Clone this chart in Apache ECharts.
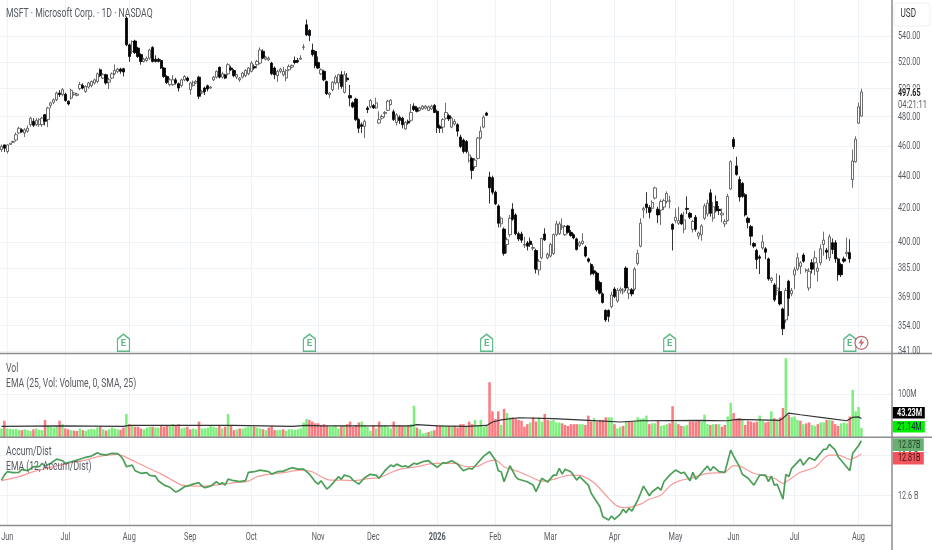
<!DOCTYPE html>
<html><head><meta charset="utf-8">
<style>html,body{margin:0;padding:0;background:#fff}#c{width:932px;height:550px}</style>
<script src="https://cdn.jsdelivr.net/npm/echarts@6/dist/echarts.min.js"></script>
</head><body><div id="c"></div>
<script>
const opens=[457.5,460.7,456.3,461,462.5,464,468.8,471,468.8,470,
474.5,476.8,474.5,474.5,474.5,481.4,478,488,490.2,492,
496.9,495.7,496,491,493.3,495.7,495.2,500.2,502.5,498,
501.2,502.3,504.2,505.3,514,507.8,510.3,504.8,507.8,511,
512.8,514.5,514.8,554.2,533,528,536,530.5,525.5,520.3,
521,522.8,531,522,522,521,515.3,509,503,503,
506.5,503.7,502.3,506.5,507.8,499.3,502.3,504.2,508.5,497,
500.5,502.2,500.5,506.5,508.5,515.8,508.5,510.3,511,515.3,
513.5,508.5,506.5,508.5,509.6,511,512.8,516.5,517.8,519,
528,522,521.5,519,515.3,509.6,512.8,510.3,507.8,514,
516,521,521,522,531.1,548.8,544.3,529,528,519.5,
511,512.8,505.3,495.7,499.3,504.2,504.2,510.3,497.4,507.8,
495,489.8,492.5,478,474.5,473.3,486.2,487,487.9,486.2,
475.6,479,482.2,484.5,488.6,483.5,476,479.7,479,471.5,
476.8,477.5,487.4,486.2,484.5,485.5,486,484.5,485.5,488,
483.8,473.3,472.8,479,480.7,472.8,475,474.5,466,464,
463,450.2,451.7,446.4,451.7,465.3,472.8,482.6,439.6,439.2,
430,421.5,410.6,407.5,398.5,404.2,419.5,416,404.8,404.6,
398,399.4,400.4,396.3,395,384,390.8,404.6,390.8,391.8,
393.3,404.2,404.8,408.6,404.2,409.4,405.6,404.2,401.7,397.9,
399,397,390.2,387,383.5,382.2,377,370.8,362,362,
364,373.4,367,372.5,371.8,385,371.2,373,373.4,387.6,
397.5,419,422.7,420.6,420,426.4,419.5,419,420.8,424.2,
424.4,410.4,412.6,411,416,407.4,420,417,407.4,414.6,
403.3,404.2,414,416.6,429.6,414,424.2,419.4,416,410.6,
412.6,432,464.4,446.8,438,435.6,428.5,414,409,399,
395,391.4,396.5,396,390.2,378.1,375.7,372.6,372.1,362.7,
357,377.7,370.9,381.2,384.4,386,392.4,383.7,374,388,
388,383.2,388,398.5,395.2,390.8,399.5,399.5,390.2,387,
390.2,393.3,393.7,438,449.5,475.5,480.5];
const closes=[459.8,458.5,460.7,461.8,463,467.6,472,469.5,471,472,
479,474,477.5,478,479,476.8,486.2,489.8,492,496.9,
495.7,499.3,491.5,489,498.8,496.9,496.2,503,500.5,501.7,
504.2,505.3,506.5,511,509.6,510.3,504.2,506.5,511,513.5,
514.5,512.8,512.3,533,524,535.6,527,524,520.3,522,
522.8,529,520.3,520.3,520.3,515.3,509,504.5,506.5,506.5,
504.2,500.5,506.5,509,506,504.2,504.8,505.3,494.5,498,
498,499.8,501.2,508.5,512.8,508.5,511,507.8,517.8,514,
509.6,510.3,507.8,511.5,513.5,515.3,519,515.3,520.3,529,
522.8,523.5,522.8,511,510.3,512.8,514.5,512.8,513.5,516.5,
517.3,519.5,520,522.8,531.4,540.8,540.3,525.5,517,515.3,
514,506.5,496.4,496.9,504.7,508.5,510.3,501.7,510.3,506.5,
493.3,487,478,472,473.3,476.8,485,491.5,486.2,489.8,
478,480.2,483,491,491.6,478,481.4,477.4,474.5,476,
475.6,483,485,483.8,486.2,487.4,487.4,487,487.4,483,
472.5,472,478,483,478.5,479,476.8,470,459.6,456.3,
456.3,454,443.9,450.6,465.3,470,479.7,481,432.7,430,
422.8,411,414,393.3,401.3,414,413.4,404.8,401.7,401,
398.5,397.5,398.5,396.7,384.4,388.8,402,401.2,392.8,398.5,
404.2,410.6,410.6,409.4,409,405.6,403.7,402.3,395.6,399.4,
400.4,391.8,388.9,381.8,382.2,373,371.2,366.2,357,358.8,
370.2,369.4,372.7,373.4,373,374,373,370.8,384.4,393.3,
411,420,420.5,417.5,423.6,432.7,416,424.2,424.8,429.2,
424.6,407.4,414.6,412.6,410.6,413,419.4,414.6,412,407.4,
405.2,409.4,421.5,423.2,417,421,418.5,418.6,417,412,
427.4,449.5,459.6,441.2,427,427.4,416,411.4,403.3,397.5,
389.8,390.6,400,394,379,379.4,367.6,374,365.4,352.4,
372.6,368.4,372.6,384,390.8,388,388.9,384,383.2,384.4,
390.8,385,396,401,394,403,395.6,390.2,381.3,381.3,
388.9,394,390.2,450,464.5,487,497.65];
const lows=[456,456,455,461,462,463,468,469,466,469,
473,473,473.5,473,473,474,472.8,486,489,491,
494,494.5,490.5,488,492,495,494.5,499,499.5,497,
500,501,503,504,508.5,507,503,499.8,507,510,
511.5,511,509,532,520,526,526,523,517.8,519.5,
520,521.5,519.5,519.5,519.5,514.5,508,503.5,501.7,502,
503,498,501,505.5,505,495.7,501.5,503.5,492.5,496,
495.5,498,500,505.5,507.5,507.5,507.5,507,510,513,
508.5,507,505,507.5,508.5,510,512,514,515,518,
522,521,520.5,510,507,505,511.5,509,505.5,513,
515,518,519,521.5,529,540,536,524,515,514.5,
510,505.5,495.5,493.3,498,503,499.3,500,496.5,505,
487.4,486,477,468.8,468.8,465.3,482.6,486,485.5,485.5,
475,478,479.5,484,488,477,474,475,472,471,
474.5,476.5,484,483,483.8,484.8,485.2,484,484.8,482.5,
468.8,468.8,468.8,478,477,472,474,466.4,458.5,455,
455,449,438.3,445,451,464.5,472,480.5,423,428.5,
422,408.5,408.5,392,393.5,403,412.5,403.8,400.5,399.5,
396.5,395,397,395,382,381,390,400.5,390,391,
392.5,403.3,404,407,403.5,404.8,403,401.5,395,397,
398.3,391,388,381,381,372,370.5,365.6,356,356,
363,368.5,366,371,370.5,372.5,368,369.5,372.5,386.5,
396.8,414,417,414,418,425.5,411,410,419,423,
420,395,411,410,410,405,416.5,413.5,405.5,406,
401.5,400.7,413,415,415,412,417.5,416,411.5,408.7,
412,431.5,458,440.5,424.2,426.5,415,408,398,396.5,
384.5,381.7,395.6,390,378,376.7,366.6,370,364.5,349.2,
355.5,359,369.5,373.5,383.5,381.7,388,382.5,372.5,382,
381,377.5,386.5,392,390,389,393,388,378,380,
388,391.5,388,432.8,449,475,480];
const highs=[461,461,461,462,463.5,469,473,472,472,474,
480,479,479,479,480,482,487,490.5,493,498,
499,500.5,497,491.5,500,497.5,497,505,504,502.5,
505,506,507.5,512,515,511.5,511,508,512,518,
515.5,515.5,515.5,555.5,534,536.5,537,531.5,526.5,523,
524,530,532,525,523,522,516,510,508,510,
508,504.5,507.5,510,509,505,506,506.5,509.5,499,
501.5,503,502,509.5,513.5,516.5,512.5,511,519,517,
514.5,511,508.5,512.5,514.5,516,520.5,518,521.5,531,
529.5,524.5,524,520,516.5,514,515.5,516,514.5,518,
518,524,523,525,533.5,553,545.5,534,529,524,
515,514,506,497.5,505.5,510,511,513,513,511.5,
502.8,490.8,493.5,479,476,478,487.5,492.5,489,493.5,
483.8,481.5,484,492,492.5,485,482.5,481,480,477,
478,489,489.5,487.5,487,488.2,488.3,488,488.5,489,
485,474.5,479,489.8,482,480,478.5,475.5,467.6,465,
464,456.3,452.8,452,466,473.3,481,483.5,443,440.5,
431,422.5,415,408.5,402.5,416,423.2,417,406,406,
403,400.5,402.5,399,396,390,402.5,408,393.8,399.5,
405,412.5,412,414,410,410,407,405,402.5,400.5,
405,398,391,388,386,383,378,371.5,362.5,362.5,
372,374.5,374,374.4,374,386,374.5,374,385.5,395.5,
414,421,430,422,425,433.5,421,425.5,426,430.5,
427.8,411,420,421,417,418,427.4,418,413,416,
406,410.5,423,425.3,432,424,428,421.5,420,413.5,
429,450.5,466,452.8,440,436.5,429.5,415,410,400,
396,392.5,404,397,391,380,376.7,382,381,363.5,
374,378.5,374,385.5,393.6,389,393.5,384.8,385,390,
394.8,388,398.5,406,396.5,404.5,402,401,391,388,
391.5,402.5,401.5,457.6,466.5,490,500];
const volumes=[20,38,20,19,18,19,17,16,18,16,
14,18,20,17,16,40,26,24,22,24,
38,30,20,18,16,15,14,20,16,14,
18,19,18,22,24,18,15,18,22,20,
18,17,22,54,30,26,24,24,20,18,
22,24,24,22,22,26,24,28,26,30,
26,30,20,22,24,18,20,18,36,20,
20,22,26,24,22,26,20,24,54,26,
16,18,20,20,22,24,24,24,22,20,
18,16,22,26,16,16,17,18,15,18,
18,17,18,20,34,42,40,36,32,32,
28,30,26,24,24,28,20,26,28,30,
36,24,28,34,36,28,24,14,28,20,
36,26,28,24,20,36,28,28,26,26,
28,30,73,22,18,8,10,12,14,16,
28,28,28,26,26,24,26,22,30,30,
24,36,30,40,26,40,24,26,128,60,
42,60,28,66,56,46,46,44,40,38,
24,30,34,46,36,46,36,54,40,38,
40,34,34,32,28,26,30,30,30,30,
30,28,50,36,44,36,40,40,46,46,
46,30,20,24,26,36,36,36,38,46,
42,44,50,30,32,32,38,26,28,30,
32,72,34,30,26,26,28,36,36,36,
38,36,52,30,28,30,30,30,24,28,
48,80,56,42,44,42,28,38,36,34,
36,50,38,34,36,60,44,40,46,68,
184,52,46,48,40,38,30,32,34,28,
26,30,34,34,40,40,38,30,26,32,
34,32,48,110,60,70,21.14];
const volRedOverride=[252];
const volEmaIdx=[0,20,42,44,60,80,100,105,110,125,141,143,150,160,167,169,172,178,190,202,213,220,240,250,253,268,269,271,275,284,291,293,295,296];
const volEmaVal=[25,26,25,27,27,27,25,27,26,26,26,29,26,25,27,35,40,45,43,39,35,38,39,38,41,39,44,56,52,44,38,46,47,43.23];
const adIdx=[0,1,2,4,6,7,9,11,13,14,15,17,19,21,22,24,26,27,29,31,33,34,36,38,40,41,42,43,45,46,48,50,51,53,54,56,58,60,61,63,64,66,68,69,70,72,74,75,76,77,78,80,82,84,85,87,89,92,93,95,97,100,102,104,106,108,109,110,
111,112,113,115,116,117,118,120,121,123,125,127,129,130,132,134,135,136,138,139,140,142,143,145,147,148,150,152,153,155,157,159,161,162,164,166,168,170,171,172,173,175,177,178,181,183,184,186,188,190,191,192,193,194,196,198,199,202,203,206,207,209,210,211,213,214,215,216,217,219,220,
221,223,224,226,227,228,230,232,234,235,237,238,239,241,242,243,244,245,247,249,251,252,254,255,257,259,261,263,264,265,266,267,269,270,271,272,275,276,278,280,283,284,285,287,288,292,293,295,296];
const adVal=[12.678,12.703,12.72,12.715,12.717,12.732,12.725,12.745,12.745,12.762,12.748,12.762,12.783,12.775,12.762,12.77,12.778,12.782,12.792,12.798,12.815,12.808,12.803,12.812,12.81,12.798,12.778,12.745,12.753,12.725,12.712,12.715,12.702,12.698,12.675,12.653,12.642,12.618,12.625,12.645,12.648,12.658,12.665,12.648,12.64,12.648,12.67,12.657,12.665,12.653,12.683,12.675,12.67,12.675,12.717,12.72,12.728,12.72,12.708,12.72,12.723,12.74,12.733,12.733,12.708,12.67,12.658,12.675,
12.653,12.633,12.645,12.678,12.695,12.682,12.703,12.695,12.678,12.658,12.69,12.707,12.702,12.687,12.725,12.753,12.745,12.758,12.745,12.75,12.742,12.762,12.758,12.77,12.775,12.762,12.742,12.765,12.762,12.775,12.758,12.725,12.737,12.732,12.765,12.798,12.82,12.778,12.725,12.72,12.67,12.75,12.695,12.682,12.67,12.653,12.62,12.687,12.668,12.703,12.703,12.737,12.708,12.732,12.72,12.678,12.695,12.653,12.612,12.545,12.495,12.478,12.498,12.482,12.508,12.532,12.515,12.537,12.523,12.578,12.612,
12.648,12.6,12.62,12.642,12.628,12.67,12.703,12.728,12.712,12.717,12.675,12.717,12.682,12.715,12.732,12.748,12.725,12.745,12.72,12.717,12.828,12.798,12.745,12.707,12.687,12.653,12.703,12.703,12.67,12.698,12.653,12.657,12.583,12.707,12.695,12.737,12.783,12.753,12.79,12.778,12.832,12.833,12.857,12.828,12.795,12.725,12.812,12.85,12.875];
const adEmaIdx=[0,6,11,17,23,29,34,40,42,46,50,55,60,62,69,74,80,85,88,92,97,103,107,110,113,117,121,126,130,134,137,143,149,156,160,164,167,170,173,178,182,186,190,196,200,204,209,212,215,220,223,227,230,233,237,243,249,252,254,259,266,269,271,275,280,285,288,292,296];
const adEmaVal=[12.675,12.695,12.72,12.742,12.762,12.778,12.798,12.807,12.798,12.77,12.742,12.708,12.668,12.653,12.648,12.653,12.665,12.673,12.695,12.707,12.715,12.728,12.72,12.695,12.678,12.678,12.675,12.685,12.69,12.715,12.732,12.745,12.762,12.762,12.745,12.748,12.77,12.778,12.745,12.72,12.695,12.673,12.682,12.703,12.698,12.665,12.587,12.548,12.54,12.558,12.582,12.603,12.648,12.673,12.687,12.712,12.717,12.75,12.748,12.712,12.687,12.662,12.678,12.717,12.742,12.803,12.803,12.782,12.808];
const monthIdx=[2,22,44,65,86,109,128,150,170,189,211,232,252,273,295];
const monthLabels=['Jun','Jul','Aug','Sep','Oct','Nov','Dec','2026','Feb','Mar','Apr','May','Jun','Jul','Aug'];
const priceTicks=[540,520,500,480,460,440,420,400,385,369,354,341];
const volTicks=[100];
const adTicks=[12.6,12.8];
const earnIdx=[42,106,167,230,292];
const flashIdx=[296];
const slotCount=308;

const FONT='Roboto,sans-serif';
const TXT='#565b62', GRID='#eef3f8', LINE='#8b8d91';
const cats=Array.from({length:slotCount},(_,i)=>String(i));
const isMonth=i=>monthIdx.includes(+i);
const candle=opens.map((o,i)=>[o,closes[i],lows[i],highs[i]]);
const volBars=volumes.map((v,i)=>{
  const up=i===0?closes[0]>=opens[0]:closes[i]>=closes[i-1];
  const red=volRedOverride.includes(i)||!up;
  return {value:v,itemStyle:{color:red?'#fb7a80':'#7cef7c'}};
});
const pairs=(a,b)=>a.map((x,i)=>[String(x),b[i]]);
const xa=(g)=>({type:'category',gridIndex:g,data:cats,boundaryGap:true,
  axisLine:{show:false},axisTick:{show:false},
  splitLine:{show:true,alignWithLabel:true,interval:(i)=>isMonth(i),lineStyle:{color:GRID,width:1}},
  axisLabel:{show:false}});
const ya=(g,extra)=>Object.assign({gridIndex:g,position:'right',
  axisLine:{show:false},splitLine:{show:true,lineStyle:{color:GRID,width:1}},axisLabel:{show:false}},extra);
const house='path://M6 0L12 4.5V16H0V4.5Z';
const bolt='path://M7 0L1 9H5L3 16L10 6H6Z';
const gridBase={left:-1.455,width:896.28};
const option={animation:false,backgroundColor:'#fff',
 grid:[
  Object.assign({top:0,height:353},gridBase),
  Object.assign({top:354,height:83},gridBase),
  Object.assign({top:438,height:87},gridBase)],
 xAxis:[xa(0),xa(1),xa(2)],
 yAxis:[
  ya(0,{type:'log',min:340.2,max:569,axisTick:{show:false,customValues:priceTicks}}),
  ya(1,{type:'value',min:0,max:194,axisTick:{show:false,customValues:volTicks}}),
  ya(2,{type:'value',min:12.4535,max:12.8885,axisTick:{show:false,customValues:adTicks}})],
 series:[
  {type:'candlestick',name:'MSFT',xAxisIndex:0,yAxisIndex:0,data:candle,barWidth:2.8,
   itemStyle:{color:'#ffffff',color0:'#000000',borderColor:'#4a4a4a',borderColor0:'#000000',borderWidth:0.8}},
  {type:'scatter',name:'Earnings',xAxisIndex:0,yAxisIndex:0,z:6,
   data:earnIdx.map(i=>[String(i),345.3]),symbol:house,symbolSize:[12,17],
   itemStyle:{color:'#fff',borderColor:'#35a968',borderWidth:1.4},
   label:{show:true,position:'inside',formatter:'E',color:'#35a968',fontFamily:'Roboto',fontWeight:'bold',fontSize:9.5,offset:[0,1]}},
  {type:'scatter',name:'Flash',xAxisIndex:0,yAxisIndex:0,z:6,
   data:flashIdx.map(i=>[String(i),345.3]),symbol:'circle',symbolSize:13,
   itemStyle:{color:'#fff',borderColor:'#a8404e',borderWidth:1.2}},
  {type:'scatter',name:'FlashBolt',xAxisIndex:0,yAxisIndex:0,z:7,
   data:flashIdx.map(i=>[String(i),345.3]),symbol:bolt,symbolSize:[6,10],
   itemStyle:{color:'#b8505c'}},
  {type:'bar',name:'Vol',xAxisIndex:1,yAxisIndex:1,data:volBars,barWidth:2.5},
  {type:'line',name:'EMA Vol',xAxisIndex:1,yAxisIndex:1,data:pairs(volEmaIdx,volEmaVal),showSymbol:false,z:5,
   lineStyle:{color:'#333',width:1.2},smooth:false},
  {type:'line',name:'Accum/Dist',xAxisIndex:2,yAxisIndex:2,data:pairs(adIdx,adVal),showSymbol:false,z:5,
   lineStyle:{color:'#4c9f58',width:1.7}},
  {type:'line',name:'EMA AD',xAxisIndex:2,yAxisIndex:2,data:pairs(adEmaIdx,adEmaVal),showSymbol:false,z:4,
   lineStyle:{color:'#f79a9a',width:1.2},smooth:0.3}
 ]
};
const ch=echarts.init(document.getElementById('c'),null,{renderer:'canvas'});
ch.setOption(option);
const T=(text,x,y,o={})=>({type:'text',z:o.z||52,x,y,scaleX:o.sx||0.65,silent:true,
  style:{text,fill:o.fill||TXT,font:(o.bold?'bold ':'')+(o.size||11.5)+'px '+FONT,align:o.align||'left',verticalAlign:'middle'}});
const els=[
  {type:'rect',z:40,shape:{x:892.5,y:0,width:6,height:550},style:{fill:'#fff'}},
  {type:'line',z:50,shape:{x1:0,y1:353.5,x2:932,y2:353.5},style:{stroke:LINE,lineWidth:1.5}},
  {type:'line',z:50,shape:{x1:0,y1:437.3,x2:932,y2:437.3},style:{stroke:LINE,lineWidth:1.5}},
  {type:'line',z:50,shape:{x1:0,y1:525.5,x2:892,y2:525.5},style:{stroke:LINE,lineWidth:1.5}},
  {type:'line',z:50,shape:{x1:892,y1:0,x2:892,y2:550},style:{stroke:LINE,lineWidth:1.5}},
  {type:'rect',z:51,shape:{x:894,y:3,width:36,height:23,r:4},style:{fill:'#fff',stroke:'#eef0f3',lineWidth:1}},
  T('USD',900.5,14,{fill:'#333',sx:0.68,size:12})
];
[['MSFT · Microsoft Corp. · 1D · NASDAQ',14,12.5,0.69],['Vol',369,12,0.72],['EMA (25, Vol: Volume, 0, SMA, 25)',384,12,0.72],
 ['Accum/Dist',452,12,0.72],['EMA (12, Accum/Dist)',467,12,0.72]].forEach(r=>els.push(T(r[0],6,r[1],{size:r[2],sx:r[3]})));
priceTicks.forEach(v=>els.push(T(v.toFixed(2),898,ch.convertToPixel({yAxisIndex:0},v),{size:11.5,sx:0.63})));
volTicks.forEach(v=>els.push(T(v+'M',898,ch.convertToPixel({yAxisIndex:1},v),{size:11.5,sx:0.63})));
adTicks.forEach(v=>els.push(T(v.toFixed(1)+' B',898,ch.convertToPixel({yAxisIndex:2},v),{size:11.5,sx:0.63})));
monthIdx.forEach((m,k)=>els.push(T(monthLabels[k],ch.convertToPixel({xAxisIndex:2},String(m)),537,
  {size:11.5,sx:0.64,align:'center',bold:monthLabels[k]==='2026'})));
els.push(
  {type:'rect',z:55,shape:{x:893,y:87.5,width:38,height:23},style:{fill:'#fff'}},
  T('497.65',898,93,{z:56,fill:'#222',bold:true,size:11.5,sx:0.62}),
  T('04:21:11',898,105,{z:56,size:11.5,sx:0.65}),
  {type:'rect',z:55,shape:{x:892.8,y:407,width:32,height:11.5},style:{fill:'#000'}},
  T('43.23M',897,412.8,{z:56,fill:'#fff',bold:true,size:11,sx:0.66}),
  {type:'rect',z:55,shape:{x:892.8,y:421,width:32,height:11.5},style:{fill:'#00f000'}},
  T('21.14M',897,426.8,{z:56,fill:'#124',size:11,sx:0.66}),
  {type:'rect',z:55,shape:{x:892.8,y:438.3,width:31,height:12.7},style:{fill:'#68b070'}},
  T('12.87B',898,444.7,{z:56,fill:'#1e3a24',size:11.5,sx:0.62}),
  {type:'rect',z:55,shape:{x:892.8,y:452,width:31,height:12.5},style:{fill:'#f2555c'}},
  T('12.81B',898,458.3,{z:56,fill:'#3a1013',size:11.5,sx:0.62})
);
ch.setOption({graphic:{elements:els}});
</script></body></html>
